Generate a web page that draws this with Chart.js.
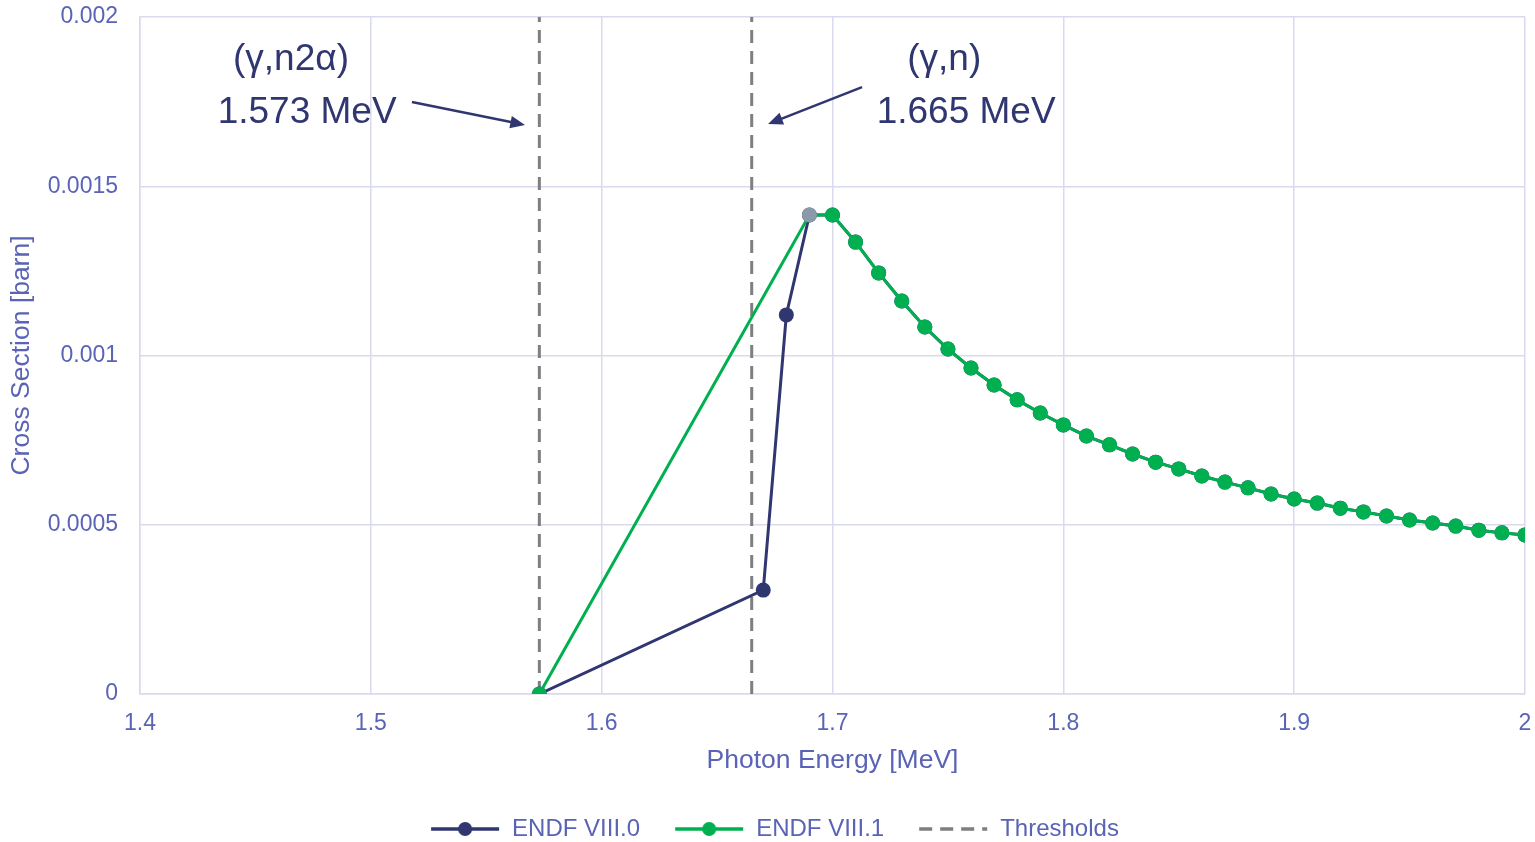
<!DOCTYPE html>
<html>
<head>
<meta charset="utf-8">
<script src="https://cdn.jsdelivr.net/npm/chart.js@4/dist/chart.umd.min.js"></script>
<style>
  html, body { margin: 0; padding: 0; background: #fff; }
  #wrap { width: 1535px; height: 842px; }
</style>
</head>
<body>
<div id="wrap"><canvas id="c"></canvas></div>
<script>
// ENDF VIII.0: sharp rise after threshold, then same tail as VIII.1
const energy0 = [1.573, 1.67, 1.68, 1.69];
const sigma0 = [0, 0.000307, 0.00112, 0.001415];

// ENDF VIII.1
const energy1 = [1.573, 1.69, 1.70, 1.71, 1.72, 1.73, 1.74, 1.75, 1.76, 1.77, 1.78, 1.79,
  1.80, 1.81, 1.82, 1.83, 1.84, 1.85, 1.86, 1.87, 1.88, 1.89, 1.90, 1.91, 1.92, 1.93,
  1.94, 1.95, 1.96, 1.97, 1.98, 1.99, 2.00];
const sigma1 = [0, 0.001415, 0.001415, 0.001335, 0.001244, 0.001161, 0.001084, 0.001019,
  0.000963, 0.000913, 0.000869, 0.000830, 0.000795, 0.000762, 0.000736, 0.000709,
  0.000685, 0.000665, 0.000644, 0.000626, 0.000609, 0.000591, 0.000576, 0.000564,
  0.000549, 0.000538, 0.000526, 0.000514, 0.000505, 0.000496, 0.000484, 0.000476, 0.000470];

const thresholds = [1.573, 1.665];
const thresholdNames = ['(γ,n2α)', '(γ,n)'];

const xTicks = [1.4, 1.5, 1.6, 1.7, 1.8, 1.9, 2.0];
const yTicks = [0, 0.0005, 0.001, 0.0015, 0.002];

const NAVY = '#2f3670';
const GREEN = '#00b050';
const GREY = '#7f7f7f';
const TEXT = '#5a63b5';
const GRID = '#d9daee';
const FONT = 'Liberation Sans, Arial, sans-serif';

// tail of VIII.0 coincides with VIII.1
const pts0 = energy0.map((x, i) => ({ x, y: sigma0[i] }))
  .concat(energy1.slice(2).map((x, i) => ({ x, y: sigma1[i + 2] })));
const pts1 = energy1.map((x, i) => ({ x, y: sigma1[i] }));
const ptsT = [];
thresholds.forEach((t, i) => {
  if (i) ptsT.push({ x: t, y: null });
  ptsT.push({ x: t, y: yTicks[0] }, { x: t, y: yTicks[yTicks.length - 1] });
});

// legend sample: line with optional dot, drawn a bit to the right of the box
function legendIcon(color, dashed, dot) {
  const c = document.createElement('canvas');
  c.width = 106; c.height = 18;
  const g = c.getContext('2d');
  g.strokeStyle = color; g.lineWidth = 3.5;
  if (dashed) g.setLineDash([13, 8]);
  g.beginPath(); g.moveTo(31, 9); g.lineTo(99, 9); g.stroke();
  if (dot) {
    g.fillStyle = color;
    g.beginPath(); g.arc(65, 9, 7, 0, Math.PI * 2); g.fill();
  }
  return c;
}

const labelPlugin = {
  id: 'thresholdLabels',
  afterDatasetsDraw(chart) {
    const { ctx, scales: { x, y } } = chart;
    const notes = [
      { name: [1.4654, 0.001873], val: [1.4724, 0.001716], a: [1.5178, 0.001749], b: [1.5668, 0.001681] },
      { name: [1.7484, 0.001873], val: [1.7579, 0.001716], a: [1.7128, 0.001793], b: [1.6721, 0.001684] }
    ];
    ctx.save();
    ctx.fillStyle = NAVY; ctx.strokeStyle = NAVY;
    ctx.font = '37px ' + FONT;
    ctx.textAlign = 'center'; ctx.textBaseline = 'middle';
    notes.forEach((n, i) => {
      ctx.fillText(thresholdNames[i], x.getPixelForValue(n.name[0]), y.getPixelForValue(n.name[1]));
      ctx.fillText(thresholds[i].toFixed(3) + ' MeV', x.getPixelForValue(n.val[0]), y.getPixelForValue(n.val[1]));
      const x1 = x.getPixelForValue(n.a[0]), y1 = y.getPixelForValue(n.a[1]);
      const x2 = x.getPixelForValue(n.b[0]), y2 = y.getPixelForValue(n.b[1]);
      const ang = Math.atan2(y2 - y1, x2 - x1);
      ctx.lineWidth = 2.5;
      ctx.beginPath(); ctx.moveTo(x1, y1);
      ctx.lineTo(x2 - 12 * Math.cos(ang), y2 - 12 * Math.sin(ang)); ctx.stroke();
      ctx.beginPath();
      ctx.moveTo(x2, y2);
      ctx.lineTo(x2 - 16 * Math.cos(ang - 0.4), y2 - 16 * Math.sin(ang - 0.4));
      ctx.lineTo(x2 - 16 * Math.cos(ang + 0.4), y2 - 16 * Math.sin(ang + 0.4));
      ctx.closePath(); ctx.fill();
    });
    ctx.restore();
  }
};

const round = v => String(+(+v).toFixed(6));
const legendOrder = ['ENDF VIII.0', 'ENDF VIII.1', 'Thresholds'];

new Chart(document.getElementById('c'), {
  type: 'line',
  data: {
    datasets: [
      {
        label: 'Thresholds', data: ptsT, borderColor: GREY, borderWidth: 3,
        borderDash: [13, 8], pointRadius: 0, spanGaps: false, order: 3,
        legendIcon: legendIcon(GREY, true, false)
      },
      {
        label: 'ENDF VIII.0', data: pts0, borderColor: NAVY, backgroundColor: NAVY,
        borderWidth: 3, pointRadius: 7.5, pointBorderWidth: 0, order: 2,
        legendIcon: legendIcon(NAVY, false, true)
      },
      {
        label: 'ENDF VIII.1', data: pts1, borderColor: GREEN, backgroundColor: GREEN,
        pointBackgroundColor: pts1.map((p, i) => i === 1 ? '#8a9aa8' : GREEN),
        borderWidth: 3, pointRadius: 7.5, pointBorderWidth: 0, order: 1,
        legendIcon: legendIcon(GREEN, false, true)
      }
    ]
  },
  options: {
    responsive: true, maintainAspectRatio: false, animation: false,
    layout: { padding: { left: 0, right: 10, top: 17, bottom: -9 } },
    scales: {
      x: {
        type: 'linear', min: xTicks[0], max: xTicks[xTicks.length - 1],
        afterBuildTicks: s => { s.ticks = xTicks.map(v => ({ value: v })); },
        afterFit: s => { s.height = 113; },
        grid: { color: GRID, lineWidth: 1.5, drawTicks: true, tickLength: 14, tickColor: 'rgba(0,0,0,0)' },
        border: { color: GRID, width: 1.5 },
        ticks: { color: TEXT, font: { family: FONT, size: 23 }, padding: 2, maxRotation: 0, callback: round },
        title: { display: true, text: 'Photon Energy [MeV]', color: TEXT, font: { family: FONT, size: 26.5 }, padding: { bottom: 30 } }
      },
      y: {
        min: yTicks[0], max: yTicks[yTicks.length - 1],
        afterBuildTicks: s => { s.ticks = yTicks.map(v => ({ value: v })); },
        afterFit: s => { s.width = 140; },
        grid: { color: GRID, lineWidth: 1.5, drawTicks: true, tickLength: 20, tickColor: 'rgba(0,0,0,0)' },
        border: { color: GRID, width: 1.5 },
        ticks: { color: TEXT, font: { family: FONT, size: 23 }, padding: 2, callback: round },
        title: { display: true, text: 'Cross Section [barn]', color: TEXT, font: { family: FONT, size: 26.5 }, padding: { top: 6 } }
      }
    },
    plugins: {
      tooltip: { enabled: false },
      legend: {
        position: 'bottom',
        labels: {
          usePointStyle: true, pointStyleWidth: 94, padding: 10,
          color: TEXT, font: { family: FONT, size: 24 },
          sort: (a, b) => legendOrder.indexOf(a.text) - legendOrder.indexOf(b.text),
          generateLabels: chart => chart.data.datasets.map((d, i) => ({
            text: d.label, datasetIndex: i, pointStyle: d.legendIcon,
            fontColor: TEXT, hidden: false, lineWidth: 0, strokeStyle: 'transparent', fillStyle: 'transparent'
          }))
        }
      }
    }
  },
  plugins: [labelPlugin]
});
</script>
</body>
</html>
